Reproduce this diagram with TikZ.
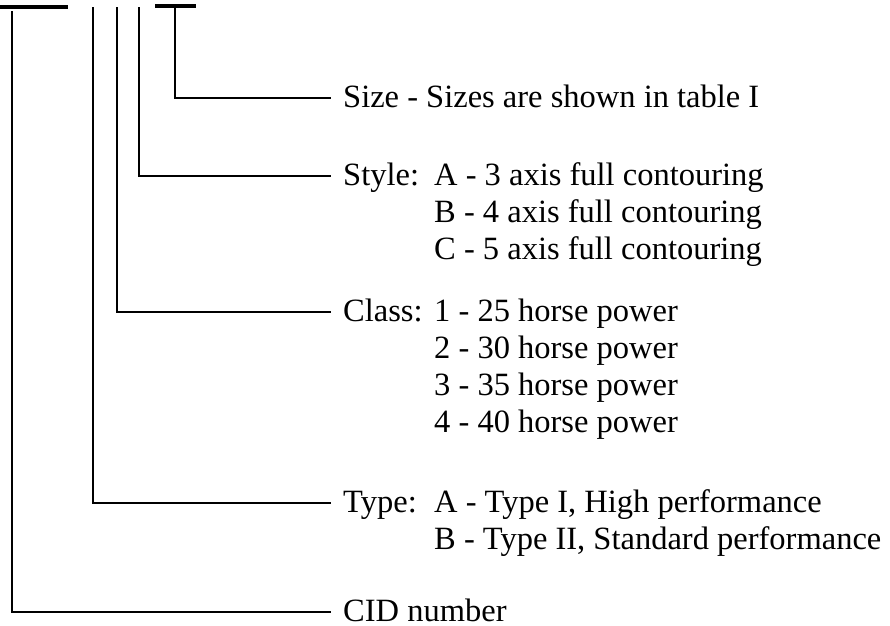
\documentclass[tikz,border=0pt]{standalone}
\usepackage{fontspec}
\setmainfont{Liberation Serif}
\begin{document}
\begin{tikzpicture}[x=1pt,y=-1pt,
  wire/.style={line width=2pt},
  bar/.style={line width=4pt},
  head/.style={anchor=west, inner xsep=12pt, inner ysep=0pt,
    text height=18pt, text depth=0pt,
    font=\fontsize{32.5}{37}\selectfont},
  val/.style={anchor=west, inner sep=0pt,
    text height=18pt, text depth=0pt,
    font=\fontsize{32.5}{37}\selectfont}]
\useasboundingbox (0,0) rectangle (890,625);

% code field bars
\draw[bar] (0,7) -- (68,7);
\draw[bar] (155,6) -- (196,6);

% free upper ends of the leader lines
\coordinate (sizetop)  at (175,8);
\coordinate (styletop) at (139,7);
\coordinate (classtop) at (117,7);
\coordinate (typetop)  at (93,7);
\coordinate (cidtop)   at (12,11);

% headings (west anchor sits where each leader ends)
\node[head] (size)  at (331,98)  {Size - Sizes are shown in table I};
\node[head] (style) at (331,176) {Style:};
\node[head] (class) at (331,312) {Class:};
\node[head] (type)  at (331,503) {Type:};
\node[head] (cid)   at (331,612) {CID number};

% option lists
\node[val] (styleA) at (434,176) {A - 3 axis full contouring};
\node[val] (styleB) at (434,213) {B - 4 axis full contouring};
\node[val] (styleC) at (434,250) {C - 5 axis full contouring};

\node[val] (class1) at (434,312) {1 - 25 horse power};
\node[val] (class2) at (434,349) {2 - 30 horse power};
\node[val] (class3) at (434,386) {3 - 35 horse power};
\node[val] (class4) at (434,423) {4 - 40 horse power};

\node[val] (typeA) at (434,503) {A - Type I, High performance};
\node[val] (typeB) at (434,540) {B - Type II, Standard performance};

% leader lines
\draw[wire] (sizetop)  |- (size.west);
\draw[wire] (styletop) |- (style.west);
\draw[wire] (classtop) |- (class.west);
\draw[wire] (typetop)  |- (type.west);
\draw[wire] (cidtop)   |- (cid.west);
\end{tikzpicture}
\end{document}
